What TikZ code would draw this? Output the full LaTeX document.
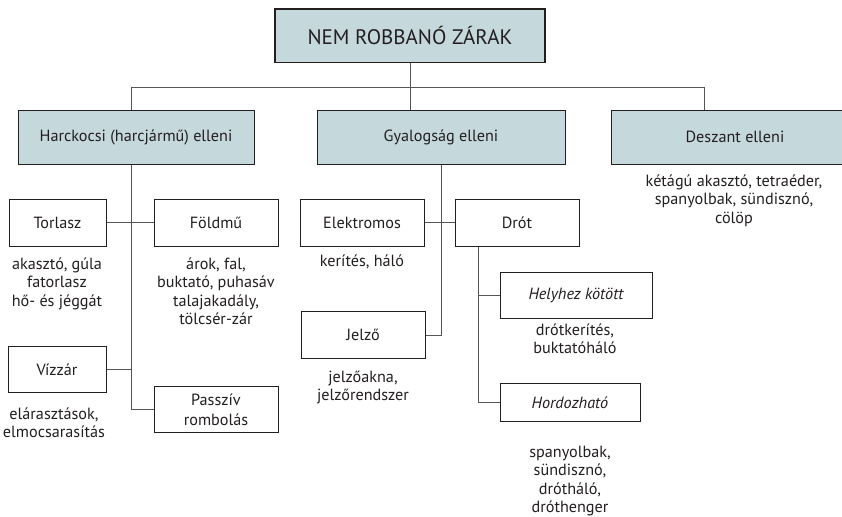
\documentclass[tikz,border=0pt]{standalone}
\usepackage{fontspec}
\setmainfont{PT Sans}
\definecolor{boxfill}{RGB}{197,216,220}
\definecolor{ink}{RGB}{35,31,32}
\definecolor{wirec}{RGB}{85,85,85}
\begin{document}
\begin{tikzpicture}[x=1pt,y=-1pt,
  every node/.style={text=ink, inner sep=0pt},
  txt/.style={font=\fontsize{16.2}{18.5}\selectfont},
  hbox/.style={txt, draw=ink, line width=1pt, fill=boxfill, minimum height=53.5pt},
  sbox/.style={txt, draw=ink, line width=1pt, fill=white, align=center},
  desc/.style={txt, anchor=north, align=center},
  wire/.style={draw=wirec, line width=0.9pt}]
\useasboundingbox (0,0) rectangle (842,516);
\clip (0,0) rectangle (842,516);
\fill[white] (0,0) rectangle (842,516);
% level 1
\node[hbox, line width=1.3pt, minimum width=270pt, font=\fontsize{21}{24}\selectfont] (top) at (410,35.75) {NEM ROBBANÓ ZÁRAK};
% level 2
\node[hbox, minimum width=236pt] (hark) at (136,137.25) {Harckocsi (harcjármű) elleni};
\node[hbox, minimum width=248pt] (gyal) at (441,137.25) {Gyalogság elleni};
\node[hbox, minimum width=248pt] (desz) at (735,137.25) {Deszant elleni};
% level 3 left
\node[sbox, minimum width=97pt, minimum height=47pt] (torlasz) at (57.5,222.5) {Torlasz};
\node[sbox, minimum width=124pt, minimum height=47pt] (foldmu) at (216,222.5) {Földmű};
\node[sbox, minimum width=98pt, minimum height=46pt] (vizzar) at (57,369.7) {Vízzár};
\node[sbox, minimum width=124pt, minimum height=46.3pt, font=\fontsize{16.2}{20.5}\selectfont] (passziv) at (216,409.8) {Passzív\\rombolás};
% level 3 middle
\node[sbox, minimum width=124pt, minimum height=47pt] (elektromos) at (362,222.5) {Elektromos};
\node[sbox, minimum width=124pt, minimum height=47pt] (drot) at (517,222.5) {Drót};
\node[sbox, minimum width=124pt, minimum height=46.6pt] (jelzo) at (363,335) {Jelző};
\node[sbox, minimum width=152pt, minimum height=45.6pt] (helyhez) at (576,295.5) {\itshape Helyhez kötött};
\node[sbox, minimum width=140pt, minimum height=38.4pt] (hordoz) at (570,402.5) {\itshape Hordozható};
% descriptions
\node[desc] (dtorlasz) at (57,256) {\strut akasztó, gúla\\fatorlasz\\hő- és jéggát};
\node[desc] (dfoldmu) at (216,256) {\strut árok, fal,\\buktató, puhasáv\\talajakadály,\\tölcsér-zár};
\node[desc] (dvizzar) at (54,406) {\strut elárasztások,\\elmocsarasítás};
\node[desc] (delektromos) at (362,253) {\strut kerítés, háló};
\node[desc] (djelzo) at (363,369) {\strut jelzőakna,\\jelzőrendszer};
\node[desc] (dhelyhez) at (575,322) {\strut drótkerítés,\\buktatóháló};
\node[desc] (dhordoz) at (570,444) {\strut spanyolbak,\\sündisznó,\\drótháló,\\dróthenger};
\node[desc] (ddesz) at (734,173) {\strut kétágú akasztó, tetraéder,\\spanyolbak, sündisznó,\\cölöp};
% connectors
\coordinate (barL) at (131,87);
\coordinate (barR) at (704,87);
\draw[wire] (top.south) -- (top.south |- gyal.north);
\draw[wire] (barL |- hark.north) -- (barL) -- (barR) -- (barR |- desz.north);
\coordinate (hT) at (131,409.8);
\draw[wire] (hT |- hark.south) -- (hT) -- (passziv.west);
\draw[wire] (torlasz.east) -- (foldmu.west);
\draw[wire] (vizzar.east) -- (vizzar.east -| hT);
\draw[wire] (gyal.south) -- (gyal.south |- jelzo.east) -- (jelzo.east);
\draw[wire] (elektromos.east) -- (drot.west);
\coordinate (dT) at (478,402.5);
\draw[wire] (dT |- drot.south) -- (dT) -- (hordoz.west);
\draw[wire] (dT |- helyhez.west) -- (helyhez.west);
\end{tikzpicture}
\end{document}
